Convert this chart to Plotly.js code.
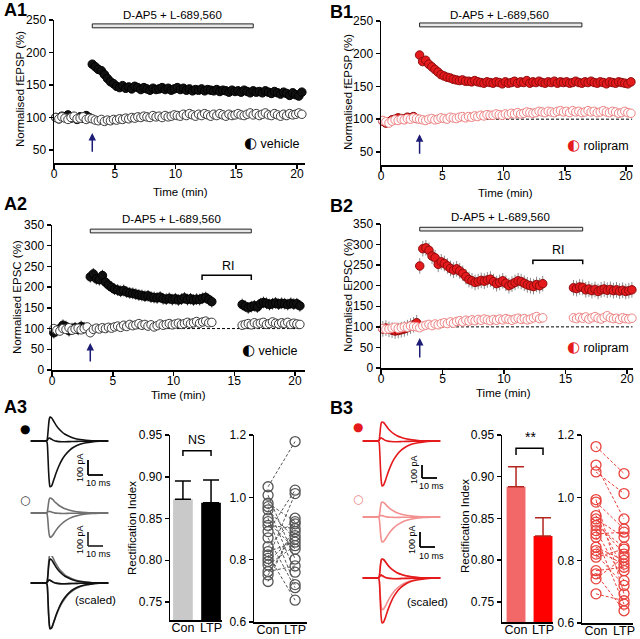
<!DOCTYPE html>
<html>
<head>
<meta charset="utf-8">
<script src="https://cdn.plot.ly/plotly-3.0.1.min.js"></script>
<style>
  html, body { margin: 0; padding: 0; background: #fff; }
  #fig { width: 640px; height: 639px; }
</style>
</head>
<body>
<div id="fig"></div>
<script>
// ---------- data ----------
const T0 = 0.15;          // first sample (min)
const DT = 0.25;          // sampling interval (min)
const stimTime = 3.15;    // induction (arrow)
const drugOn = [3.15, 16.4];
const riWindow = [12.35, 16.4];

// A1 fEPSP, vehicle
const a1Ltp = [100, 98, 102, 101, 104, 99, 100, 97, 101, 99, 103, 100,
  182, 178, 174, 172, 166, 160, 155, 152,
  148, 146, 149, 145, 147, 144, 148, 146,
  143, 146, 144, 142, 145, 143, 144, 146,
  143, 145, 142, 144, 146, 143, 145, 142,
  144, 141, 143, 142, 144, 141, 143, 142,
  141, 143, 140, 142, 141, 139, 142, 140,
  141, 139, 142, 140, 138, 141, 139, 140,
  138, 141, 139, 137, 140, 138, 136, 139,
  137, 134, 138, 135, 133, 139];
const a1Ctl = [100, 98, 101, 99, 97, 100, 102, 98, 99, 101, 97, 99,
  98, 96, 95, 97, 94, 96, 95, 97,
  96, 98, 97, 99, 98, 100, 99, 101,
  100, 102, 101, 100, 103, 101, 102, 100,
  103, 101, 102, 104, 103, 102, 105, 103,
  106, 104, 102, 105, 103, 106, 104, 102,
  105, 103, 106, 104, 102, 105, 103, 104,
  106, 104, 103, 105, 107, 104, 106, 103,
  105, 107, 104, 103, 106, 104, 102, 105,
  103, 106, 104, 105, 107, 105];

// B1 fEPSP, rolipram
const b1Ltp = [97, 94, 96, 99, 100, 102, 101, 100, 103, 102, 104, 101,
  198, 188, 190, 184, 180, 176, 172, 168,
  166, 164, 163, 161, 160, 159, 160, 158,
  158, 157, 159, 157, 156, 155, 157, 156,
  155, 157, 156, 154, 157, 155, 156, 158,
  155, 157, 156, 159, 155, 157, 156, 158,
  156, 155, 157, 156, 158, 155, 157, 156,
  157, 155, 156, 158, 156, 155, 157, 156,
  158, 156, 155, 157, 156, 154, 157, 156,
  155, 157, 156, 155, 154, 157];
const b1Ctl = [98, 96, 94, 97, 99, 98, 100, 99, 101, 100, 102, 101,
  100, 99, 98, 100, 101, 99, 100, 102,
  101, 100, 103, 102, 101, 103, 104, 102,
  104, 103, 105, 104, 106, 105, 107, 106,
  106, 108, 107, 106, 108, 107, 109, 108,
  110, 108, 109, 111, 110, 109, 110, 112,
  111, 110, 112, 111, 110, 112, 113, 111,
  112, 110, 113, 111, 112, 110, 111, 113,
  111, 112, 110, 111, 113, 111, 110, 112,
  111, 109, 110, 112, 110, 109];

// A2 EPSC, vehicle (gap = RI protocol)
const a2Ltp = [90, 95, 100, 108, 105, 95, 100, 102, 98, 105, 102, 100,
  225, 232, 220, 218, 228, 212, 205, 200,
  195, 193, 190, 192, 188, 186, 185, 183,
  181, 180, 178, 179, 176, 175, 174, 176,
  172, 171, 173, 170, 172, 169, 171, 174,
  170, 172, 169, 171, 170, 173, 175, 170,
  165, null, null, null, null, null, null, null, null, null,
  158, 154, 150, 153, 155, 152,
  160, 163, 161, 158, 160, 162, 159, 161,
  160, 158, 161, 159, 160, 155];
const a2Ctl = [100, 96, 94, 100, 98, 102, 96, 99, 101, 97, 100, 104,
  90, 98, 101, 99, 102, 100, 103, 101,
  104, 106, 103, 108, 105, 110, 107, 109,
  112, 108, 110, 106, 109, 104, 107, 111,
  108, 110, 112, 109, 111, 113, 110, 112,
  115, 112, 114, 117, 113, 116, 118, 114,
  115, null, null, null, null, null, null, null, null, null,
  108, 110, 112, 109, 114, 111,
  113, 115, 110, 112, 116, 113, 111, 114,
  112, 115, 110, 113, 111, 110];

// B2 EPSC, rolipram
const b2Ltp = [95, 97, 94, 92, 90, 91, 93, 95, 98, 102, 105, 110,
  248, 290, 292, 286, 272, 268, 252, 258,
  254, 248, 242, 238, 241, 236, 230, 222,
  215, 212, 208, 210, 213, 211, 214, 216,
  210, 205, 208, 212, 206, 200, 204, 208,
  212, 210, 206, 202, 200, 198, 203, 200,
  205, null, null, null, null, null, null, null, null, null,
  195, 193, 197, 196, 190, 192,
  188, 191, 186, 190, 192, 189, 191, 188,
  190, 187, 189, 186, 188, 190];
const b2Ctl = [96, 94, 95, 97, 99, 96, 98, 100, 99, 102, 101, 100,
  98, 102, 104, 106, 103, 107, 105, 108,
  110, 108, 112, 109, 113, 115, 112, 116,
  114, 117, 115, 118, 116, 119, 117, 115,
  118, 116, 119, 117, 120, 118, 116, 119,
  121, 118, 120, 117, 119, 122, 125, 120,
  122, null, null, null, null, null, null, null, null, null,
  122, 120, 123, 121, 124, 119,
  122, 125, 121, 119, 123, 127, 122, 120,
  121, 118, 122, 120, 119, 121];

const semA2 = 14;
const semB2 = 19;

// rectification index
const groups = ["Con", "LTP"];
const a3Ri = [0.873, 0.869];
const a3RiErr = [0.022, 0.027];
const b3Ri = [0.888, 0.829];
const b3RiErr = [0.024, 0.022];

const a3PairCon = [1.034, 1.007, 0.981, 0.970, 0.960, 0.933, 0.922, 0.910, 0.890, 0.870,
  0.842, 0.826, 0.815, 0.804, 0.794, 0.783, 0.762, 0.751, 0.730];
const a3PairLtp = [1.179, 0.802, 0.922, 0.760, 0.866, 0.720, 0.834, 0.900, 1.023, 0.710,
  0.933, 0.856, 0.670, 1.012, 0.877, 0.845, 0.780, 0.890, 0.915];
const b3PairCon = [1.163, 1.104, 1.082, 0.994, 0.986, 0.943, 0.932, 0.922, 0.911, 0.895,
  0.884, 0.874, 0.842, 0.831, 0.820, 0.810, 0.767, 0.757, 0.741, 0.693];
const b3PairLtp = [1.077, 0.932, 1.013, 0.693, 0.900, 0.767, 0.874, 0.820, 0.842, 0.735,
  0.890, 0.660, 0.800, 0.788, 0.720, 0.836, 0.778, 0.639, 0.810, 0.671];

// example currents (ms, pA) at +40, 0 and -70 mV
const traceT = [-11, -1, 0, 0.5, 1, 1.5, 2, 3, 4, 5, 6, 8, 10, 12, 15, 18, 22, 26, 30, 35, 41];
const a3LtpPos = [0, 0, 5, 40, 100, 145, 160, 155, 140, 122, 106, 80, 60, 45, 30, 19, 10, 5, 2, 1, 0];
const a3LtpZero = [0, 0, 3, 10, 18, 20, 18, 12, 6, 2, -1, -4, -5, -5, -4, -3, -2, -1, -1, 0, 0];
const a3LtpNeg = [0, 0, -8, -70, -190, -270, -305, -300, -275, -245, -215, -165, -125, -95, -62, -40, -22, -12, -6, -2, 0];
const a3CtlPos = [0, 0, 3, 25, 65, 92, 100, 97, 88, 77, 67, 50, 38, 28, 19, 12, 6, 3, 1, 0, 0];
const a3CtlZero = [0, 0, 2, 6, 10, 11, 10, 7, 3, 1, -1, -2, -3, -3, -2, -2, -1, -1, 0, 0, 0];
const a3CtlNeg = [0, 0, -5, -40, -105, -145, -160, -158, -146, -131, -116, -90, -70, -54, -36, -24, -13, -7, -3, -1, 0];
const b3LtpPos = [0, 0, 5, 38, 95, 130, 136, 132, 120, 105, 90, 68, 51, 38, 25, 16, 8, 4, 2, 1, 0];
const b3LtpZero = [0, 0, 4, 12, 20, 22, 19, 12, 6, 2, -1, -4, -5, -5, -4, -3, -2, -1, -1, 0, 0];
const b3LtpNeg = [0, 0, -8, -75, -200, -285, -320, -315, -290, -258, -226, -172, -130, -98, -64, -41, -22, -12, -6, -2, 0];
const b3CtlPos = [0, 0, 4, 28, 72, 100, 107, 104, 95, 83, 72, 54, 41, 30, 20, 13, 6, 3, 1, 0, 0];
const b3CtlZero = [0, 0, 2, 6, 10, 11, 10, 7, 3, 1, -1, -2, -3, -3, -2, -2, -1, -1, 0, 0, 0];
const b3CtlNeg = [0, 0, -6, -45, -115, -160, -178, -175, -162, -145, -128, -99, -76, -58, -39, -25, -14, -7, -3, -1, 0];
const scaledA3 = 1.9;
const scaledB3 = 1.27;

// ---------- helpers ----------
const FONT = "Liberation Sans, Arial, Helvetica, sans-serif";
const W = 640, H = 639;
const px = (v) => v / W;
const py = (v) => 1 - v / H;
const domX = (a, b) => [a / W, b / W];
const domY = (top, bottom) => [1 - bottom / H, 1 - top / H];

const BLACK = { fill: "#111", edge: "#000", open: "#3a3a3a", err: "#333" };
const RED = { fill: "#e41a1c", edge: "#8e0c0e", open: "#ee8282", err: "#8a8a8a" };

function axis(extra) {
  return Object.assign({
    showline: true, linecolor: "#000", linewidth: 1.5,
    ticks: "outside", ticklen: 4, tickwidth: 1.5, tickcolor: "#000",
    showgrid: false, zeroline: false, fixedrange: true,
    tickfont: { family: FONT, size: 12, color: "#000" },
  }, extra);
}
// bottom axes sit their labels tight under the ticks, as in the figure
function xaxisT(extra) {
  return axis(Object.assign({ ticklabelstandoff: -5 }, extra));
}
function xaxisCat(extra) {
  return xaxisT(Object.assign({ tickvals: [0, 1], ticktext: groups, ticks: "",
    tickfont: { family: FONT, size: 12.5, color: "#000" } }, extra));
}
function hidden(extra) {
  return Object.assign({ visible: false, fixedrange: true }, extra);
}

function timeTraces(n, ltp, ctl, sty, sem) {
  const t = ltp.map((_, i) => T0 + i * DT);
  const ax = { xaxis: "x" + (n === 1 ? "" : n), yaxis: "y" + (n === 1 ? "" : n) };
  const filled = {
    ...ax, x: t, y: ltp, type: "scatter", mode: "markers", cliponaxis: false,
    marker: { size: 8.5, color: sty.fill, line: { color: sty.edge, width: 1 } },
  };
  if (sem) filled.error_y = { type: "constant", value: sem, color: sty.err, thickness: 1, width: 0 };
  const open = {
    ...ax, x: t, y: ctl, type: "scatter", mode: "markers", cliponaxis: false,
    marker: { size: 8.5, color: "#fff", line: { color: sty.open, width: 1 } },
  };
  return [filled, open];
}

function barTrace(n, vals, err, colors, errColor) {
  return {
    xaxis: "x" + n, yaxis: "y" + n, type: "bar", x: [0, 1], y: vals,
    width: 0.7, marker: { color: colors, line: { width: 0 } },
    error_y: { type: "data", symmetric: false, array: err, arrayminus: [0, 0],
      color: errColor, thickness: 1.5, width: 8 },
  };
}

function pairTrace(n, con, ltp, color) {
  const x = [], y = [];
  con.forEach((c, i) => { x.push(0, 1, null); y.push(c, ltp[i], null); });
  return {
    xaxis: "x" + n, yaxis: "y" + n, type: "scatter", mode: "lines+markers", x, y,
    cliponaxis: false,
    line: { color, width: 1, dash: "3px,2px" },
    marker: { size: 10, color: "rgba(0,0,0,0)", line: { color, width: 1.3 } },
  };
}

function waves(n, arrs, color, factor) {
  const k = factor || 1;
  return arrs.map((a) => ({
    xaxis: "x" + n, yaxis: "y" + n, type: "scatter", mode: "lines",
    x: traceT, y: a.map((v) => v * k),
    line: { color, width: 1.6, shape: "spline", smoothing: 0.6 },
  }));
}

// ---------- traces ----------
const data = [
  ...timeTraces(1, a1Ltp, a1Ctl, BLACK),
  ...timeTraces(2, b1Ltp, b1Ctl, RED),
  ...timeTraces(3, a2Ltp, a2Ctl, BLACK, semA2),
  ...timeTraces(4, b2Ltp, b2Ctl, RED, semB2),
  barTrace(5, a3Ri, a3RiErr, ["#c9c9c9", "#000"], "#000"),
  pairTrace(6, a3PairCon, a3PairLtp, "#555"),
  barTrace(7, b3Ri, b3RiErr, ["#f26868", "#ff0000"], "#b3261e"),
  pairTrace(8, b3PairCon, b3PairLtp, "#e8413c"),
  ...waves(9, [a3LtpPos, a3LtpZero, a3LtpNeg], "#111"),
  ...waves(10, [a3CtlPos, a3CtlZero, a3CtlNeg], "#707070"),
  ...waves(11, [a3CtlPos, a3CtlZero, a3CtlNeg], "#707070", scaledA3),
  ...waves(11, [a3LtpPos, a3LtpZero, a3LtpNeg], "#111"),
  ...waves(12, [b3LtpPos, b3LtpZero, b3LtpNeg], "#e41a1c"),
  ...waves(13, [b3CtlPos, b3CtlZero, b3CtlNeg], "#f39090"),
  ...waves(14, [b3CtlPos, b3CtlZero, b3CtlNeg], "#f39090", scaledB3),
  ...waves(14, [b3LtpPos, b3LtpZero, b3LtpNeg], "#e41a1c"),
];

// ---------- layout ----------
const yTime1 = [50, 100, 150, 200, 250];
const yTime2 = [0, 50, 100, 150, 200, 250, 300, 350];
const xTime = [0, 5, 10, 15, 20];
const yRi = [0.75, 0.8, 0.85, 0.9, 0.95];
const yPair = [0.6, 0.8, 1.0, 1.2];

const layout = {
  width: W, height: H,
  margin: { l: 0, r: 0, t: 0, b: 0 },
  paper_bgcolor: "#fff", plot_bgcolor: "rgba(0,0,0,0)",
  showlegend: false,
  font: { family: FONT, size: 12, color: "#000" },

  xaxis: xaxisT({ domain: domX(54, 305), range: [0, 20.66], tickvals: xTime, anchor: "y" }),
  yaxis: axis({ domain: domY(20, 163), range: [30, 250], tickvals: yTime1, anchor: "x" }),
  xaxis2: xaxisT({ domain: domX(381, 633), range: [0, 20.57], tickvals: xTime, anchor: "y2" }),
  yaxis2: axis({ domain: domY(21, 165), range: [30, 250], tickvals: yTime1, anchor: "x2" }),
  xaxis3: xaxisT({ domain: domX(52, 305), range: [0, 20.82], tickvals: xTime, anchor: "y3" }),
  yaxis3: axis({ domain: domY(225, 370), range: [0, 350], tickvals: yTime2, anchor: "x3" }),
  xaxis4: xaxisT({ domain: domX(381, 633), range: [0, 20.49], tickvals: xTime, anchor: "y4" }),
  yaxis4: axis({ domain: domY(224, 368), range: [0, 350], tickvals: yTime2, anchor: "x4" }),

  xaxis5: xaxisCat({ domain: domX(170, 222), range: [-0.46, 1.39], anchor: "y5" }),
  yaxis5: axis({ domain: domY(435, 620), range: [0.7285, 0.95], tickvals: yRi, tickformat: ".2f", anchor: "x5" }),
  xaxis6: xaxisCat({ domain: domX(254, 307), range: [-0.52, 1.44], anchor: "y6" }),
  yaxis6: axis({ domain: domY(435, 622), range: [0.6, 1.2], tickvals: yPair, tickformat: ".1f", anchor: "x6" }),
  xaxis7: xaxisCat({ domain: domX(502, 553), range: [-0.52, 1.37], anchor: "y7" }),
  yaxis7: axis({ domain: domY(435, 622), range: [0.726, 0.95], tickvals: yRi, tickformat: ".2f", anchor: "x7" }),
  xaxis8: xaxisCat({ domain: domX(582, 633), range: [-0.5, 1.32], anchor: "y8" }),
  yaxis8: axis({ domain: domY(435, 623), range: [0.6, 1.2], tickvals: yPair, tickformat: ".1f", anchor: "x8" }),

  // example current panels (ms / pA)
  xaxis9: hidden({ domain: domX(30.5, 108.5), range: [-11, 41], anchor: "y9" }),
  yaxis9: hidden({ domain: domY(414, 490.5), range: [-330, 180], anchor: "x9" }),
  xaxis10: hidden({ domain: domX(30.5, 108.5), range: [-11, 41], anchor: "y10" }),
  yaxis10: hidden({ domain: domY(486, 562.5), range: [-330, 180], anchor: "x10" }),
  xaxis11: hidden({ domain: domX(30.5, 108.5), range: [-11, 41], anchor: "y11" }),
  yaxis11: hidden({ domain: domY(556, 632.5), range: [-330, 180], anchor: "x11" }),
  xaxis12: hidden({ domain: domX(362.5, 440.5), range: [-11, 41], anchor: "y12" }),
  yaxis12: hidden({ domain: domY(420, 488.6), range: [-340, 150], anchor: "x12" }),
  xaxis13: hidden({ domain: domX(362.5, 440.5), range: [-11, 41], anchor: "y13" }),
  yaxis13: hidden({ domain: domY(496, 564.6), range: [-340, 150], anchor: "x13" }),
  xaxis14: hidden({ domain: domX(362.5, 440.5), range: [-11, 41], anchor: "y14" }),
  yaxis14: hidden({ domain: domY(557, 625.6), range: [-340, 150], anchor: "x14" }),
};

// ---------- shapes ----------
const shapes = [];
function baseline(n, xEnd) {
  const s = n === 1 ? "" : n;
  shapes.push({ type: "line", xref: "x" + s, yref: "y" + s, x0: 0, x1: xEnd, y0: 100, y1: 100,
    layer: "below", line: { color: "#000", width: 1, dash: "3px,2px" } });
}
function drugBar(n, y0, y1) {
  const s = n === 1 ? "" : n;
  shapes.push({ type: "rect", xref: "x" + s, yref: "y" + s, x0: drugOn[0], x1: drugOn[1], y0, y1,
    fillcolor: "#e8e8e8", line: { color: "#222", width: 1 } });
}
function bracket(n, x0, x1, yTop, yLow, color) {
  const s = n === 1 ? "" : n;
  shapes.push({ type: "path", xref: "x" + s, yref: "y" + s,
    path: `M ${x0},${yLow} L ${x0},${yTop} L ${x1},${yTop} L ${x1},${yLow}`,
    line: { color: color || "#000", width: 1.5 } });
}
function pxLine(x0, y0, x1, y1, color) {
  shapes.push({ type: "line", xref: "paper", yref: "paper", x0: px(x0), x1: px(x1), y0: py(y0), y1: py(y1),
    line: { color, width: 1.8 } });
}

baseline(1, 20.5); baseline(2, 20.5); baseline(3, 20.5); baseline(4, 20.45);
drugBar(1, 238, 244); drugBar(2, 241, 247); drugBar(3, 331, 340); drugBar(4, 333, 342);
bracket(3, riWindow[0], riWindow[1], 229, 217);
bracket(4, riWindow[0], riWindow[1], 262, 252);
bracket(5, 0, 1, 0.931, 0.925);
bracket(7, 0, 1, 0.934, 0.926);

// scale bars (100 pA / 10 ms)
pxLine(88, 460, 88, 475, "#000"); pxLine(88, 475, 103, 475, "#000");
pxLine(88, 532, 88, 546, "#333"); pxLine(88, 546, 103, 546, "#333");
pxLine(422, 465, 422, 478, "#000"); pxLine(422, 478, 437, 478, "#000");
pxLine(420, 532, 420, 547, "#000"); pxLine(420, 547, 435, 547, "#000");
layout.shapes = shapes;

// ---------- annotations ----------
const ann = [];
function txt(x, y, text, o) {
  ann.push(Object.assign({ xref: "paper", yref: "paper", x: px(x), y: py(y), text,
    showarrow: false, xanchor: "center", yanchor: "middle",
    font: { family: FONT, size: 12.5, color: "#000" } }, o || {}));
}
function arrow(n, yHead, yTail) {
  const s = n === 1 ? "" : n;
  ann.push({ xref: "x" + s, yref: "y" + s, axref: "x" + s, ayref: "y" + s,
    x: stimTime, y: yHead, ax: stimTime, ay: yTail, text: "", showarrow: true,
    arrowhead: 2, arrowsize: 1, arrowwidth: 1.5, arrowcolor: "#1d1d78" });
}
const bold = { family: "Liberation Sans, Arial, sans-serif", size: 18, color: "#000" };
const fTitle = { family: FONT, size: 11.5, color: "#000" };

txt(2, 10, "<b>A1</b>", { xanchor: "left", font: bold });
txt(328, 12, "<b>B1</b>", { xanchor: "left", font: bold });
txt(2, 204, "<b>A2</b>", { xanchor: "left", font: bold });
txt(328, 206, "<b>B2</b>", { xanchor: "left", font: bold });
txt(2, 407, "<b>A3</b>", { xanchor: "left", font: bold });
txt(328, 408, "<b>B3</b>", { xanchor: "left", font: bold });

txt(172, 15, "D-AP5 + L-689,560", { font: fTitle });
txt(499, 15, "D-AP5 + L-689,560", { font: fTitle });
txt(171, 219, "D-AP5 + L-689,560", { font: fTitle });
txt(500, 217, "D-AP5 + L-689,560", { font: fTitle });

txt(20, 89, "Normalised fEPSP (%)", { textangle: -90, font: fTitle });
txt(348, 92, "Normalised fEPSP (%)", { textangle: -90, font: fTitle });
txt(17, 297, "Normalised EPSC (%)", { textangle: -90, font: fTitle });
txt(348, 295, "Normalised EPSC (%)", { textangle: -90, font: fTitle });
txt(180, 192, "Time (min)", { font: fTitle });
txt(505, 193, "Time (min)", { font: fTitle });
txt(178, 395, "Time (min)", { font: fTitle });
txt(503, 393, "Time (min)", { font: fTitle });
txt(132, 528, "Rectification Index", { textangle: -90, font: fTitle });
txt(465, 526, "Rectification Index", { textangle: -90, font: fTitle });

const glyph = (c) => `<span style="font-family:'DejaVu Sans';font-size:15px;color:${c}">\u25D0</span> `;
txt(302, 143, glyph("#000") + "vehicle", { xanchor: "right" });
txt(300, 350, glyph("#000") + "vehicle", { xanchor: "right" });
txt(631, 145, glyph("#e41a1c") + "rolipram", { xanchor: "right" });
txt(631, 347, glyph("#e41a1c") + "rolipram", { xanchor: "right" });

txt(228, 266, "RI");
txt(558, 250, "RI");
txt(196, 440, "NS");
txt(530, 437, "**", { font: { family: FONT, size: 14, color: "#000" } });

// trace panel labels
txt(25, 429, "\u25CF", { font: { family: "DejaVu Sans", size: 12, color: "#000" } });
txt(25, 500, "\u25CB", { font: { family: "DejaVu Sans", size: 12, color: "#333" } });
txt(358, 427, "\u25CF", { font: { family: "DejaVu Sans", size: 12, color: "#e41a1c" } });
txt(358, 499, "\u25CB", { font: { family: "DejaVu Sans", size: 12, color: "#ee8282" } });
const f9 = { family: FONT, size: 9, color: "#000" };
txt(80, 468, "100 pA", { textangle: -90, font: f9 });
txt(98, 483, "10 ms", { font: f9 });
txt(80, 540, "100 pA", { textangle: -90, font: f9 });
txt(98, 554, "10 ms", { font: f9 });
txt(95, 600, "(scaled)", { font: fTitle });
txt(414, 470, "100 pA", { textangle: -90, font: f9 });
txt(431, 486, "10 ms", { font: f9 });
txt(412, 540, "100 pA", { textangle: -90, font: f9 });
txt(431, 556, "10 ms", { font: f9 });
txt(427, 602, "(scaled)", { font: fTitle });

arrow(1, 76, 45);
arrow(2, 77, 45);
arrow(3, 65, 17);
arrow(4, 73, 22);
layout.annotations = ann;

Plotly.newPlot("fig", data, layout, { displayModeBar: false, staticPlot: true });
</script>
</body>
</html>
